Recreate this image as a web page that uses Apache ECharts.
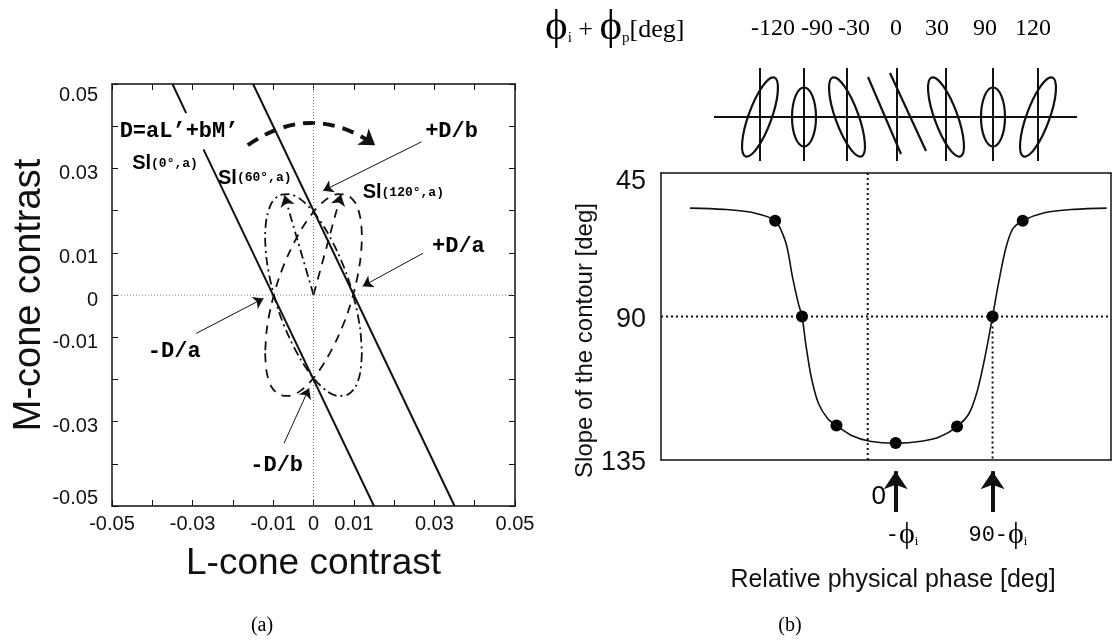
<!DOCTYPE html>
<html lang="en">
<head>
<meta charset="UTF-8">
<title>Cone contrast and contour slope</title>
<style>
  html, body { margin: 0; padding: 0; background: #fff; }
  #main { width: 1115px; height: 641px; }
</style>
</head>
<body>
<div id="main"></div>
<script src="https://cdn.jsdelivr.net/npm/echarts@6/dist/echarts.min.js"></script>
<script>
// ---------- panel (a) data: L / M cone contrast ----------
var contrastLabels = [-0.05, -0.03, -0.01, 0, 0.01, 0.03, 0.05];

// detection lines D = aL' + bM' (two solid lines, left one broken by the text)
var lineLeftTopL = [-0.0350, -0.0316], lineLeftTopM = [0.0500, 0.0431];
var lineLeftL = [-0.0273, 0.0150], lineLeftM = [0.0345, -0.0500];
var lineRightL = [-0.0150, 0.0350], lineRightM = [0.0500, -0.0500];

// stimulus trajectories
var dashDotL = [0.0120, 0.0116, 0.0104, 0.0085, 0.0060, 0.0031, 0.0000, -0.0031, -0.0060, -0.0085, -0.0104, -0.0116, -0.0120, -0.0116, -0.0104, -0.0085, -0.0060, -0.0031, 0.0000, 0.0031, 0.0060, 0.0085, 0.0104, 0.0116, 0.0120];
var dashDotM = [-0.0138, -0.0184, -0.0218, -0.0236, -0.0239, -0.0226, -0.0197, -0.0154, -0.0101, -0.0042, 0.0021, 0.0082, 0.0138, 0.0184, 0.0218, 0.0236, 0.0239, 0.0226, 0.0197, 0.0154, 0.0101, 0.0042, -0.0021, -0.0082, -0.0138];
var dashedL = [-0.0120, -0.0116, -0.0104, -0.0085, -0.0060, -0.0031, 0.0000, 0.0031, 0.0060, 0.0085, 0.0104, 0.0116, 0.0120, 0.0116, 0.0104, 0.0085, 0.0060, 0.0031, 0.0000, -0.0031, -0.0060, -0.0085, -0.0104, -0.0116, -0.0120];
var dashedM = [-0.0138, -0.0184, -0.0218, -0.0236, -0.0239, -0.0226, -0.0197, -0.0154, -0.0101, -0.0042, 0.0021, 0.0082, 0.0138, 0.0184, 0.0218, 0.0236, 0.0239, 0.0226, 0.0197, 0.0154, 0.0101, 0.0042, -0.0021, -0.0082, -0.0138];

// annotation arrows [from, to]
var pointerArrows = [
  [[0.0268, 0.0363], [0.0024, 0.0247]],   // +D/b
  [[0.0272, 0.0099], [0.0122, 0.0021]],   // +D/a
  [[-0.0291, -0.0091], [-0.0124, -0.0008]], // -D/a
  [[-0.0073, -0.0351], [-0.0011, -0.0221]]  // -D/b
];
var dashDotVector = [[0.0000, 0.0000], [-0.0072, 0.0236]];
var dashedVector = [[0.0000, 0.0000], [0.0068, 0.0238]];
var rotationArc = [[-0.0163, 0.0355], [0.0153, 0.0355]];

var notesA = [
  { text: '{m|D=aL’+bM’}', at: [-0.0481, 0.0387] },
  { text: '{s|Sl}{c|(0°,a)}', at: [-0.0450, 0.0312] },
  { text: '{s|Sl}{c|(60°,a)}', at: [-0.0237, 0.0277] },
  { text: '{s|Sl}{c|(120°,a)}', at: [0.0122, 0.0242] },
  { text: '{m|+D/b}', at: [0.0277, 0.0387] },
  { text: '{m|+D/a}', at: [0.0294, 0.0114] },
  { text: '{m|-D/a}', at: [-0.0411, -0.0134] },
  { text: '{m|-D/b}', at: [-0.0157, -0.0403] }
];

// ---------- panel (b) data: slope of the contour vs relative phase ----------
var phiI = 26; // position of -phi_i on the relative phase axis
var curvePhase = [-165, -134, -107, -86, -76, -70, -64.5, -61, -57.6, -52.5, -45.7, -37, -29, -15, 2, 26, 50, 66.5, 83, 94, 102, 109, 116, 121, 128, 134.5, 144, 165, 192, 222];
var curveSlope = [56, 56.4, 57.4, 60, 66.9, 77.4, 85.8, 90, 98.4, 108.9, 117.3, 122.1, 124.2, 127.3, 129.1, 129.7, 129.1, 127.8, 124.5, 120.5, 113.1, 102.6, 90, 80.5, 69, 62.7, 60, 57.4, 56.4, 56];
var dotPhase = [-86, -61, -29, 26, 83, 116, 144];
var dotSlope = [60, 90, 124.2, 129.7, 124.5, 90, 60];
var slopeTicks = [45, 90, 135];
var glyphLabels = ['-120', '-90', '-30', '0', '30', '90', '120'];
var glyphTilt = [-20, 0, 20, null, 20, 0, -20];

// ---------- layout ----------
var BLACK = '#111';
var sans = 'Liberation Sans, Arial, sans-serif';
var mono = 'Liberation Mono, Courier New, monospace';
var serif = 'Liberation Serif, DejaVu Serif, serif';
var glyphX = [760, 804, 847, 897, 946, 993, 1038];
var glyphLabelX = [773, 817, 854, 896, 937, 985, 1033];
var glyphY = 117;

function zip(xs, ys) { return xs.map(function (x, i) { return [x, ys[i]]; }); }

function fmtContrast(v) {
  var r = Math.round(v * 100) / 100;
  if (contrastLabels.indexOf(r) < 0) return '';
  var t = r === 0 ? '0' : r.toFixed(2);
  if (r === 0.05) return '{dd|' + t + '}';
  if (r === -0.05) return '{u|' + t + '}';
  return '{d|' + t + '}';
}

function frameAxis(grid, pos, extra) {
  return Object.assign({
    gridIndex: grid, type: 'value', position: pos,
    axisLine: { show: true, onZero: false, lineStyle: { color: BLACK, width: 1.5 } },
    axisTick: { show: false },
    axisLabel: { show: false },
    splitLine: { show: false }
  }, extra || {});
}

var contrastTick = { show: true, inside: true, length: 6, lineStyle: { color: BLACK, width: 1 } };
var contrastRich = {
  d: { fontSize: 20, fontFamily: sans, color: BLACK, padding: [10, 0, 0, 0] },
  dd: { fontSize: 20, fontFamily: sans, color: BLACK, padding: [22, 0, 0, 0] },
  u: { fontSize: 20, fontFamily: sans, color: BLACK, padding: [0, 0, 16, 0] }
};

function lineSeries(x, y, data, style, extra) {
  return Object.assign({
    type: 'line', xAxisIndex: x, yAxisIndex: y, data: data,
    symbol: 'none', silent: true, animation: false,
    lineStyle: style
  }, extra || {});
}

var option = {
  animation: false,
  backgroundColor: '#fff',
  grid: [
    { left: 112, top: 84, width: 403, height: 422 },
    { left: 661, top: 173, width: 450, height: 287 }
  ],
  xAxis: [
    frameAxis(0, 'bottom', {
      min: -0.05, max: 0.05, interval: 0.01, axisTick: contrastTick,
      axisLabel: { show: true, formatter: fmtContrast, margin: 8, rich: {
        d: { fontSize: 20, fontFamily: sans, color: BLACK },
        dd: { fontSize: 20, fontFamily: sans, color: BLACK },
        u: { fontSize: 20, fontFamily: sans, color: BLACK } } },
      name: 'L-cone contrast', nameLocation: 'middle', nameGap: 39,
      nameTextStyle: { fontSize: 37, fontFamily: sans, color: BLACK }
    }),
    frameAxis(0, 'top', { min: -0.05, max: 0.05, interval: 0.01, axisTick: contrastTick }),
    frameAxis(1, 'bottom', {
      min: -192, max: 226,
      name: 'Relative physical phase [deg]', nameLocation: 'middle', nameGap: 108,
      nameTextStyle: { fontSize: 25, fontFamily: sans, color: BLACK, padding: [0, 0, 0, 14] }
    }),
    frameAxis(1, 'top', { min: -192, max: 226 })
  ],
  yAxis: [
    frameAxis(0, 'left', {
      min: -0.05, max: 0.05, interval: 0.01, axisTick: contrastTick,
      axisLabel: { show: true, formatter: fmtContrast, margin: 14, rich: contrastRich },
      name: 'M-cone contrast', nameLocation: 'middle', nameGap: 62,
      nameTextStyle: { fontSize: 38, fontFamily: sans, color: BLACK }
    }),
    frameAxis(0, 'right', { min: -0.05, max: 0.05, interval: 0.01, axisTick: contrastTick }),
    frameAxis(1, 'left', {
      min: 45, max: 135, interval: 45, inverse: true,
      axisLabel: {
        show: true, margin: 15,
        formatter: function (v) { return slopeTicks.indexOf(v) < 0 ? '' : (v === 45 ? '{t|' + v + '}' : '{n|' + v + '}'); },
        rich: {
          t: { fontSize: 27, fontFamily: sans, color: BLACK, padding: [18, 0, 0, 0] },
          n: { fontSize: 27, fontFamily: sans, color: BLACK, padding: [6, 0, 0, 0] }
        }
      },
      name: 'Slope of the contour [deg]', nameLocation: 'middle', nameGap: 64,
      nameTextStyle: { fontSize: 24, fontFamily: sans, color: BLACK, padding: [0, 48, 0, 0] }
    }),
    frameAxis(1, 'right', { min: 45, max: 135, inverse: true })
  ],
  series: [
    // panel (a) zero lines
    lineSeries(0, 0, [[0, -0.05], [0, 0.05]], { color: '#777', width: 1, type: [1, 2] }),
    lineSeries(0, 0, [[-0.05, 0], [0.05, 0]], { color: '#777', width: 1, type: [1, 2] }),
    // detection lines
    lineSeries(0, 0, zip(lineLeftTopL, lineLeftTopM), { color: BLACK, width: 2 }),
    lineSeries(0, 0, zip(lineLeftL, lineLeftM), { color: BLACK, width: 2 }),
    lineSeries(0, 0, zip(lineRightL, lineRightM), { color: BLACK, width: 2 }),
    // trajectories
    lineSeries(0, 0, zip(dashDotL, dashDotM), { color: BLACK, width: 1.8, type: [9, 4, 2, 4] }, { smooth: 0.3 }),
    lineSeries(0, 0, zip(dashedL, dashedM), { color: BLACK, width: 1.8, type: [9, 7] }, { smooth: 0.3 }),
    {
      type: 'lines', coordinateSystem: 'cartesian2d', xAxisIndex: 0, yAxisIndex: 0, silent: true,
      symbol: ['none', 'arrow'], symbolSize: 10,
      lineStyle: { color: BLACK, width: 1, opacity: 1 },
      data: pointerArrows.map(function (c) { return { coords: c }; })
    },
    {
      type: 'lines', coordinateSystem: 'cartesian2d', xAxisIndex: 0, yAxisIndex: 0, silent: true,
      symbol: ['none', 'arrow'], symbolSize: 11,
      lineStyle: { color: BLACK, width: 1.8, opacity: 1, type: [9, 4, 2, 4] },
      data: [{ coords: dashDotVector }]
    },
    {
      type: 'lines', coordinateSystem: 'cartesian2d', xAxisIndex: 0, yAxisIndex: 0, silent: true,
      symbol: ['none', 'arrow'], symbolSize: 11,
      lineStyle: { color: BLACK, width: 1.8, opacity: 1, type: [9, 7] },
      data: [{ coords: dashedVector }]
    },
    {
      type: 'lines', coordinateSystem: 'cartesian2d', xAxisIndex: 0, yAxisIndex: 0, silent: true,
      symbol: ['none', 'arrow'], symbolSize: 15,
      lineStyle: { color: BLACK, width: 4, opacity: 1, type: [12, 8], curveness: 0.35 },
      data: [{ coords: rotationArc }]
    },
    {
      type: 'scatter', xAxisIndex: 0, yAxisIndex: 0, symbolSize: 0, silent: true, clip: false,
      itemStyle: { opacity: 1 },
      data: notesA.map(function (n) { return { value: n.at, label: { formatter: n.text } }; }),
      label: {
        show: true, position: 'right', distance: 0,
        rich: {
          m: { fontSize: 22, fontFamily: mono, fontWeight: 'bold', color: '#000' },
          s: { fontSize: 20, fontFamily: sans, fontWeight: 'bold', color: '#000' },
          c: { fontSize: 13, fontFamily: mono, fontWeight: 'bold', color: '#000' }
        }
      }
    },
    // panel (b) guides
    lineSeries(2, 2, [[0, 45], [0, 135]], { color: BLACK, width: 2, type: [2, 3] }),
    lineSeries(2, 2, [[90 + phiI, 90], [90 + phiI, 135]], { color: BLACK, width: 2, type: [2, 3] }),
    lineSeries(2, 2, [[-192, 90], [226, 90]], { color: BLACK, width: 2, type: [2, 3] }),
    lineSeries(2, 2, zip(curvePhase, curveSlope), { color: BLACK, width: 1.6 }, { smooth: 0.3 }),
    {
      type: 'scatter', xAxisIndex: 2, yAxisIndex: 2, symbolSize: 12, silent: true,
      itemStyle: { color: '#000', opacity: 1 }, data: zip(dotPhase, dotSlope)
    },
    {
      type: 'lines', coordinateSystem: 'cartesian2d', xAxisIndex: 2, yAxisIndex: 2, silent: true, clip: false,
      symbol: ['none', 'arrow'], symbolSize: [14, 18],
      lineStyle: { color: BLACK, width: 4, opacity: 1 },
      data: [
        { coords: [[phiI, 151.3], [phiI, 138.5]] },
        { coords: [[90 + phiI, 151.3], [90 + phiI, 138.5]] }
      ]
    },
    {
      type: 'scatter', xAxisIndex: 2, yAxisIndex: 2, symbolSize: 0, silent: true, clip: false,
      itemStyle: { opacity: 1 },
      label: {
        show: true, position: 'inside',
        rich: {
          z: { fontSize: 26, fontFamily: sans, color: '#000' },
          m: { fontSize: 22, fontFamily: mono, color: '#000' },
          p: { fontSize: 30, fontFamily: serif, color: '#000' },
          s: { fontSize: 13, fontFamily: serif, color: '#000', padding: [14, 0, 0, 0] }
        }
      },
      data: [
        { value: [10.2, 146.6], label: { formatter: '{z|0}' } },
        { value: [phiI + 6, 158.5], label: { formatter: '{m|-}{p|ϕ}{s|i}' } },
        { value: [90 + phiI + 5, 158.5], label: { formatter: '{m|90-}{p|ϕ}{s|i}' } }
      ]
    }
  ],
  graphic: []
};

// top row of panel (b): phase labels and the contour glyphs
var g = [];
g.push({
  type: 'text', x: 545, y: 28,
  style: {
    text: '{p|ϕ}{s|i}{t| + }{p|ϕ}{s|p}{t|[deg]}', verticalAlign: 'middle', align: 'left',
    rich: {
      p: { fontSize: 43, fontFamily: serif, fill: '#000' },
      s: { fontSize: 15, fontFamily: serif, fill: '#000', padding: [20, 0, 0, 0] },
      t: { fontSize: 26, fontFamily: serif, fill: '#000', padding: [4, 0, 0, 0] }
    }
  }
});
g.push({ type: 'line', shape: { x1: 714, y1: glyphY, x2: 1077, y2: glyphY }, style: { stroke: BLACK, lineWidth: 2 } });
glyphLabels.forEach(function (lab, i) {
  var cx = glyphX[i];
  g.push({
    type: 'text', x: glyphLabelX[i], y: 29,
    style: { text: lab, fontSize: 24, fontFamily: serif, fill: '#000', align: 'center', verticalAlign: 'middle' }
  });
  g.push({ type: 'line', shape: { x1: cx, y1: 68, x2: cx, y2: 161 }, style: { stroke: BLACK, lineWidth: 2 } });
  if (glyphTilt[i] === null) {
    g.push({ type: 'line', shape: { x1: cx - 29, y1: glyphY - 40, x2: cx + 4, y2: glyphY + 37 }, style: { stroke: BLACK, lineWidth: 2.2 } });
    g.push({ type: 'line', shape: { x1: cx - 7, y1: glyphY - 44, x2: cx + 29, y2: glyphY + 34 }, style: { stroke: BLACK, lineWidth: 2.2 } });
  } else {
    var tilted = glyphTilt[i] !== 0;
    g.push({
      type: 'ellipse', x: cx, y: glyphY, rotation: glyphTilt[i] * Math.PI / 180,
      shape: { cx: 0, cy: 0, rx: tilted ? 11.5 : 12, ry: tilted ? 42 : 29.5 },
      style: { fill: 'none', stroke: BLACK, lineWidth: 2.2 }
    });
  }
});
g.push({ type: 'text', x: 262, y: 626, style: { text: '(a)', fontSize: 20, fontFamily: serif, fill: '#000', align: 'center', verticalAlign: 'middle' } });
g.push({ type: 'text', x: 790, y: 626, style: { text: '(b)', fontSize: 20, fontFamily: serif, fill: '#000', align: 'center', verticalAlign: 'middle' } });
option.graphic = g;

var chart = echarts.init(document.getElementById('main'));
chart.setOption(option);
</script>
</body>
</html>
